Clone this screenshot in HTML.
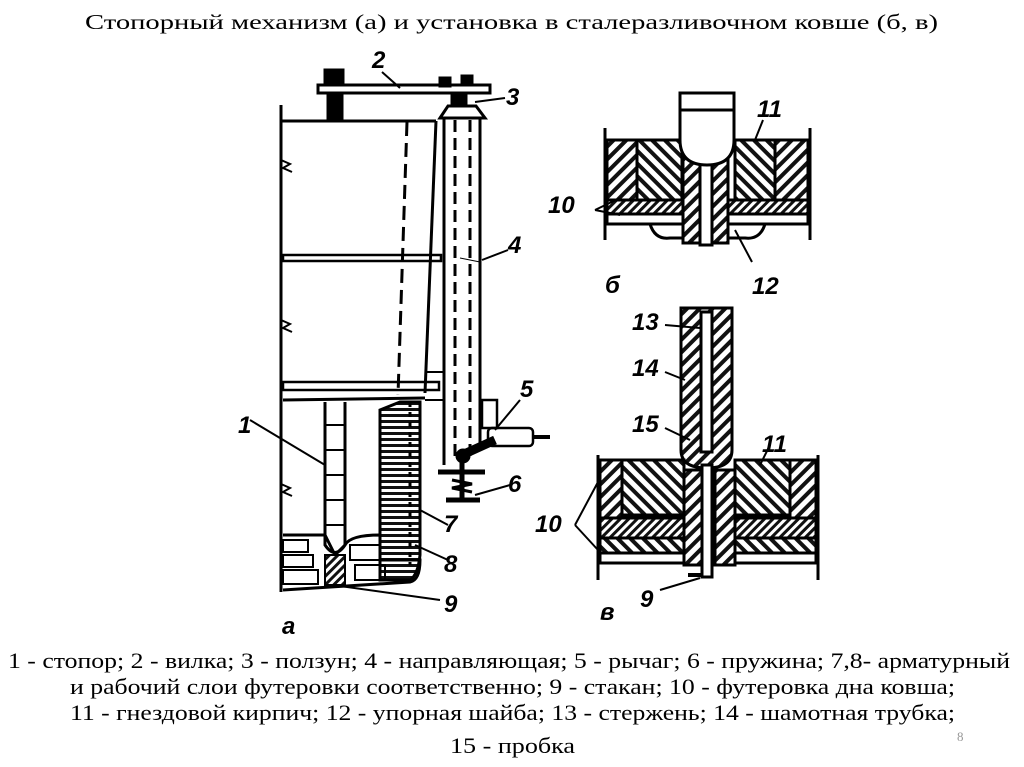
<!DOCTYPE html>
<html><head><meta charset="utf-8"><style>
html,body{margin:0;padding:0;background:#fff;}
svg{display:block;}
</style></head><body>
<svg width="1024" height="767" viewBox="0 0 1024 767" xmlns="http://www.w3.org/2000/svg">
<defs>
<pattern id="h1" width="9" height="9" patternUnits="userSpaceOnUse" patternTransform="rotate(45)"><rect width="9" height="9" fill="#fff"/><rect width="4" height="9" fill="#111"/></pattern>
<pattern id="h2" width="9" height="9" patternUnits="userSpaceOnUse" patternTransform="rotate(-45)"><rect width="9" height="9" fill="#fff"/><rect width="4" height="9" fill="#111"/></pattern>
<pattern id="h3" width="6" height="6" patternUnits="userSpaceOnUse" patternTransform="rotate(45)"><rect width="6" height="6" fill="#fff"/><rect width="3" height="6" fill="#111"/></pattern>
<pattern id="hz" width="6" height="6" patternUnits="userSpaceOnUse"><rect width="6" height="6" fill="#fff"/><rect width="6" height="3" fill="#111"/></pattern>
</defs>
<g font-family="Liberation Serif, serif" fill="#000">
<text x="85" y="29" font-size="21" textLength="853" lengthAdjust="spacingAndGlyphs">Стопорный механизм (а) и установка в сталеразливочном ковше (б, в)</text>
<text x="8" y="668" font-size="22" textLength="1002" lengthAdjust="spacingAndGlyphs">1 - стопор; 2 - вилка; 3 - ползун; 4 - направляющая; 5 - рычаг; 6 - пружина; 7,8- арматурный</text>
<text x="70" y="694" font-size="22" textLength="885" lengthAdjust="spacingAndGlyphs">и рабочий слои футеровки соответственно; 9 - стакан; 10 - футеровка дна ковша;</text>
<text x="70" y="720" font-size="22" textLength="885" lengthAdjust="spacingAndGlyphs">11 - гнездовой кирпич; 12 - упорная шайба; 13 - стержень; 14 - шамотная трубка;</text>
<text x="450" y="753" font-size="22" textLength="125" lengthAdjust="spacingAndGlyphs">15 - пробка</text>
<text x="957" y="741" font-size="13" fill="#999">8</text>
</g>

<!-- Figure a -->
<g stroke="#000" fill="none" stroke-width="3">
<line x1="281" y1="105" x2="281" y2="592"/>
<polyline points="281,160 290,164 283,168 292,172" stroke-width="2"/>
<polyline points="281,320 290,324 283,328 292,332" stroke-width="2"/>
<polyline points="281,484 290,488 283,492 292,496" stroke-width="2"/>
<line x1="281" y1="121" x2="436" y2="121"/>
<line x1="436" y1="121" x2="425" y2="393"/>
<rect x="283" y="255" width="158" height="6" stroke-width="2.5"/>
<rect x="283" y="382" width="156" height="8" stroke-width="2.5"/>
<line x1="283" y1="400" x2="425" y2="398"/>
<line x1="407" y1="122" x2="398" y2="395" stroke-dasharray="14,7"/>
<!-- fork 2 -->
<rect x="318" y="85" width="172" height="8" fill="#fff"/>
<rect x="325" y="70" width="18" height="15" fill="#000"/>
<rect x="328" y="93" width="14" height="27" fill="#000"/>
<rect x="440" y="78" width="10" height="8" fill="#000"/>
<rect x="462" y="76" width="10" height="9" fill="#000"/>
<!-- slider 3 / guide 4 -->
<rect x="452" y="95" width="14" height="12" fill="#000"/>
<polygon points="440,118 448,106 476,106 485,118" fill="#fff"/>
<line x1="444" y1="118" x2="444" y2="465"/>
<line x1="480" y1="118" x2="480" y2="445"/>
<line x1="455" y1="120" x2="455" y2="460" stroke-dasharray="12,6"/>
<line x1="470" y1="120" x2="470" y2="460" stroke-dasharray="12,6"/>
<line x1="425" y1="372" x2="444" y2="372" stroke-width="2"/>
<line x1="425" y1="400" x2="444" y2="400" stroke-width="2"/>
<!-- lever 5 -->
<rect x="482" y="400" width="15" height="28" stroke-width="2.5"/>
<rect x="488" y="428" width="45" height="18" rx="4" stroke-width="2.5"/>
<line x1="533" y1="437" x2="550" y2="437" stroke-width="4"/>
<line x1="462" y1="455" x2="495" y2="440" stroke-width="9"/>
<circle cx="463" cy="456" r="6" fill="#000"/>
<line x1="438" y1="472" x2="485" y2="472" stroke-width="5"/>
<line x1="462" y1="460" x2="462" y2="500" stroke-width="5"/>
<polyline points="452,480 472,484 452,488 472,492" stroke-width="3"/>
<line x1="446" y1="500" x2="480" y2="500" stroke-width="5"/>
<!-- stopper 1 -->
<path d="M325 402 L325 545 Q335 560 345 545 L345 402" fill="#fff"/>
<line x1="325" y1="425" x2="345" y2="425" stroke-width="2"/>
<line x1="325" y1="450" x2="345" y2="450" stroke-width="2"/>
<line x1="325" y1="475" x2="345" y2="475" stroke-width="2"/>
<line x1="325" y1="500" x2="345" y2="500" stroke-width="2"/>
<line x1="325" y1="525" x2="345" y2="525" stroke-width="2"/>
<!-- lining 7,8 -->
<path d="M380 410 L400 402 L420 402 L420 555 Q418 575 410 580 L380 580 Z" fill="url(#hz)"/>
<line x1="410" y1="402" x2="410" y2="565" stroke-dasharray="5,5"/>
<!-- bottom -->
<path d="M283 535 L325 535 Q330 545 335 555 L345 545 Q350 535 380 535 L380 560 L420 560 Q420 580 410 582 L283 590" fill="none"/>
<rect x="283" y="540" width="25" height="12" stroke-width="2"/>
<rect x="283" y="555" width="30" height="12" stroke-width="2"/>
<rect x="283" y="570" width="35" height="14" stroke-width="2"/>
<rect x="325" y="555" width="20" height="30" fill="url(#h3)" stroke-width="2"/>
<rect x="350" y="545" width="30" height="15" stroke-width="2"/>
<rect x="355" y="565" width="30" height="15" stroke-width="2"/>
<line x1="340" y1="586" x2="440" y2="600" stroke-width="2"/>
<line x1="250" y1="420" x2="325" y2="465" stroke-width="2"/>
<line x1="460" y1="258" x2="480" y2="262" stroke-width="1"/>
<line x1="482" y1="260" x2="508" y2="250" stroke-width="2"/>
<line x1="495" y1="430" x2="520" y2="400" stroke-width="2"/>
<line x1="475" y1="495" x2="510" y2="485" stroke-width="2"/>
<line x1="420" y1="510" x2="448" y2="525" stroke-width="2"/>
<line x1="415" y1="545" x2="448" y2="560" stroke-width="2"/>
<line x1="400" y1="88" x2="382" y2="72" stroke-width="2"/>
<line x1="475" y1="102" x2="505" y2="98" stroke-width="2"/>
</g>
<g font-family="Liberation Sans, sans-serif" font-weight="bold" font-style="italic" font-size="24" fill="#000">
<text x="238" y="433">1</text><text x="372" y="68">2</text><text x="506" y="105">3</text>
<text x="508" y="253">4</text><text x="520" y="397">5</text><text x="508" y="492">6</text>
<text x="444" y="532">7</text><text x="444" y="572">8</text><text x="444" y="612">9</text>
<text x="282" y="634">a</text>
<!-- б labels -->
<text x="757" y="117">11</text><text x="548" y="213">10</text><text x="605" y="293">б</text><text x="752" y="294">12</text>
<!-- в labels -->
<text x="632" y="330">13</text><text x="632" y="376">14</text><text x="632" y="432">15</text>
<text x="762" y="452">11</text><text x="535" y="532">10</text><text x="640" y="607">9</text><text x="600" y="620">в</text>
</g>

<!-- Figure б -->
<g stroke="#000" stroke-width="3">
<line x1="605" y1="128" x2="605" y2="240" fill="none"/>
<line x1="810" y1="128" x2="810" y2="240" fill="none"/>
<rect x="607" y="140" width="30" height="60" fill="url(#h1)"/>
<rect x="637" y="140" width="45" height="60" fill="url(#h2)"/>
<rect x="735" y="140" width="40" height="60" fill="url(#h2)"/>
<rect x="775" y="140" width="33" height="60" fill="url(#h1)"/>
<rect x="607" y="200" width="80" height="14" fill="url(#h3)"/>
<rect x="728" y="200" width="80" height="14" fill="url(#h3)"/>
<rect x="607" y="214" width="80" height="10" fill="#fff"/>
<rect x="728" y="214" width="80" height="10" fill="#fff"/>
<path d="M622 224 L650 224 Q655 240 670 238 L688 238" fill="none"/>
<path d="M793 224 L765 224 Q760 240 745 238 L728 238" fill="none"/>
<rect x="683" y="155" width="45" height="88" fill="url(#h1)"/>
<rect x="700" y="160" width="12" height="85" fill="#fff"/>
<path d="M680 93 L734 93 L734 140 Q734 165 707 165 Q680 165 680 140 Z" fill="#fff"/>
<line x1="680" y1="110" x2="734" y2="110"/>
<line x1="595" y1="210" x2="620" y2="198" stroke-width="2" fill="none"/>
<line x1="595" y1="210" x2="620" y2="215" stroke-width="2" fill="none"/>
<line x1="763" y1="120" x2="755" y2="140" stroke-width="2"/>
<line x1="735" y1="230" x2="752" y2="262" stroke-width="2"/>
</g>

<!-- Figure в -->
<g stroke="#000" stroke-width="3">
<path d="M681 308 L732 308 L732 450 Q732 468 707 468 Q681 468 681 450 Z" fill="url(#h1)"/>
<rect x="701" y="312" width="11" height="140" fill="#fff"/>
<line x1="598" y1="455" x2="598" y2="580" fill="none"/>
<line x1="818" y1="455" x2="818" y2="580" fill="none"/>
<rect x="600" y="460" width="22" height="58" fill="url(#h1)"/>
<rect x="622" y="460" width="62" height="55" fill="url(#h2)"/>
<rect x="684" y="470" width="20" height="95" fill="url(#h1)"/>
<rect x="715" y="470" width="20" height="95" fill="url(#h1)"/>
<rect x="735" y="460" width="55" height="55" fill="url(#h2)"/>
<rect x="790" y="460" width="26" height="58" fill="url(#h1)"/>
<rect x="600" y="518" width="84" height="20" fill="url(#h3)"/>
<rect x="735" y="518" width="81" height="20" fill="url(#h3)"/>
<rect x="600" y="538" width="84" height="15" fill="url(#h2)"/>
<rect x="735" y="538" width="81" height="15" fill="url(#h2)"/>
<rect x="600" y="553" width="84" height="10" fill="#fff"/>
<rect x="735" y="553" width="81" height="10" fill="#fff"/>
<rect x="702" y="465" width="10" height="112" fill="#fff"/>
<line x1="688" y1="575" x2="702" y2="575" stroke-width="4"/>
<line x1="665" y1="325" x2="700" y2="328" stroke-width="2"/>
<line x1="665" y1="372" x2="685" y2="380" stroke-width="2"/>
<line x1="665" y1="428" x2="690" y2="440" stroke-width="2"/>
<line x1="770" y1="445" x2="760" y2="465" stroke-width="2"/>
<line x1="575" y1="525" x2="598" y2="482" stroke-width="2"/>
<line x1="575" y1="525" x2="598" y2="550" stroke-width="2"/>
<line x1="660" y1="590" x2="700" y2="578" stroke-width="2"/>
</g>
</svg>
</body></html>
